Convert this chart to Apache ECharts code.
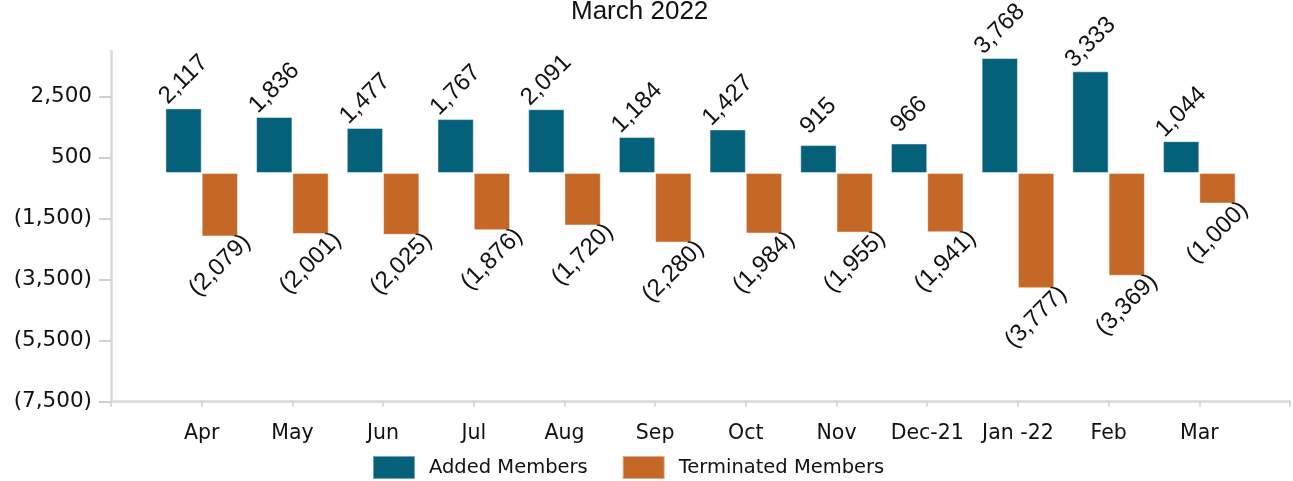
<!DOCTYPE html>
<html>
<head>
<meta charset="utf-8">
<script src="https://cdn.jsdelivr.net/npm/echarts@6/dist/echarts.min.js"></script>
<style>
html,body{margin:0;padding:0;background:#fff;}
#chart{width:1293px;height:481px;}
</style>
</head>
<body>
<div id="chart"></div>
<script>
const titleText = 'March 2022';
const categories = ['Apr','May','Jun','Jul','Aug','Sep','Oct','Nov','Dec-21','Jan -22','Feb','Mar'];
const addedMembers = [2117, 1836, 1477, 1767, 2091, 1184, 1427, 915, 966, 3768, 3333, 1044];
const terminatedMembers = [-2079, -2001, -2025, -1876, -1720, -2280, -1984, -1955, -1941, -3777, -3369, -1000];
const yTickValues = [-7500, -5500, -3500, -1500, 500, 2500];
const seriesNames = ['Added Members', 'Terminated Members'];
const colors = ['#05617A', '#C56727'];

function fmt(v) {
  const s = Math.abs(v).toLocaleString('en-US');
  return v < 0 ? '(' + s + ')' : s;
}

const axisCats = [''].concat(categories, ['']);
const pad = a => [null].concat(a, [null]);

const chart = echarts.init(document.getElementById('chart'), null, {renderer: 'canvas'});
const labelBase = {
  show: true,
  rotate: 45,
  align: 'center',
  verticalAlign: 'middle',
  distance: 29,
  fontFamily: 'Liberation Sans',
  fontSize: 24,
  color: '#111',
  formatter: p => fmt(p.value)
};
chart.setOption({
  animation: false,
  title: {
    text: titleText,
    left: 571,
    top: -1,
    padding: 0,
    textStyle: {fontFamily: 'Liberation Sans', fontSize: 26, fontWeight: 'normal', color: '#111'}
  },
  legend: {
    left: 372,
    top: 455,
    padding: 0,
    itemWidth: 42,
    itemHeight: 23,
    itemGap: 34,
    icon: 'rect',
    textStyle: {fontFamily: 'DejaVu Sans', fontSize: 19.5, color: '#111', padding: [0, 0, 0, 9]}
  },
  grid: {left: 111, right: -5, top: 51, bottom: 79.3, containLabel: false},
  xAxis: {
    type: 'category',
    data: axisCats,
    boundaryGap: false,
    axisLine: {onZero: false, lineStyle: {color: '#d9d9d9', width: 2.5}},
    axisTick: {show: true, length: 5, lineStyle: {color: '#d0d0d0', width: 1.5}},
    axisLabel: {fontFamily: 'DejaVu Sans', fontSize: 20.5, color: '#111', margin: 21, interval: 0},
    splitLine: {show: false}
  },
  yAxis: {
    type: 'value',
    min: -7500,
    max: 4000,
    axisLine: {show: true, lineStyle: {color: '#d9d9d9', width: 2.5}},
    axisTick: {show: true, length: 12, customValues: yTickValues, lineStyle: {color: '#d0d0d0', width: 2}},
    axisLabel: {customValues: yTickValues, fontFamily: 'DejaVu Sans', fontSize: 21.5, color: '#111', margin: 19, formatter: v => fmt(v)},
    splitLine: {show: false}
  },
  series: [
    {
      name: seriesNames[0],
      type: 'bar',
      data: pad(addedMembers),
      barGap: '0%',
      barCategoryGap: '20%',
      itemStyle: {color: colors[0], borderColor: 'rgba(255,255,255,0.45)', borderWidth: 1},
      label: Object.assign({}, labelBase, {position: 'top'})
    },
    {
      name: seriesNames[1],
      type: 'bar',
      data: pad(terminatedMembers),
      barGap: '0%',
      barCategoryGap: '20%',
      itemStyle: {color: colors[1], borderColor: 'rgba(255,255,255,0.45)', borderWidth: 1},
      label: Object.assign({}, labelBase, {position: 'bottom'})
    }
  ]
});
</script>
</body>
</html>
